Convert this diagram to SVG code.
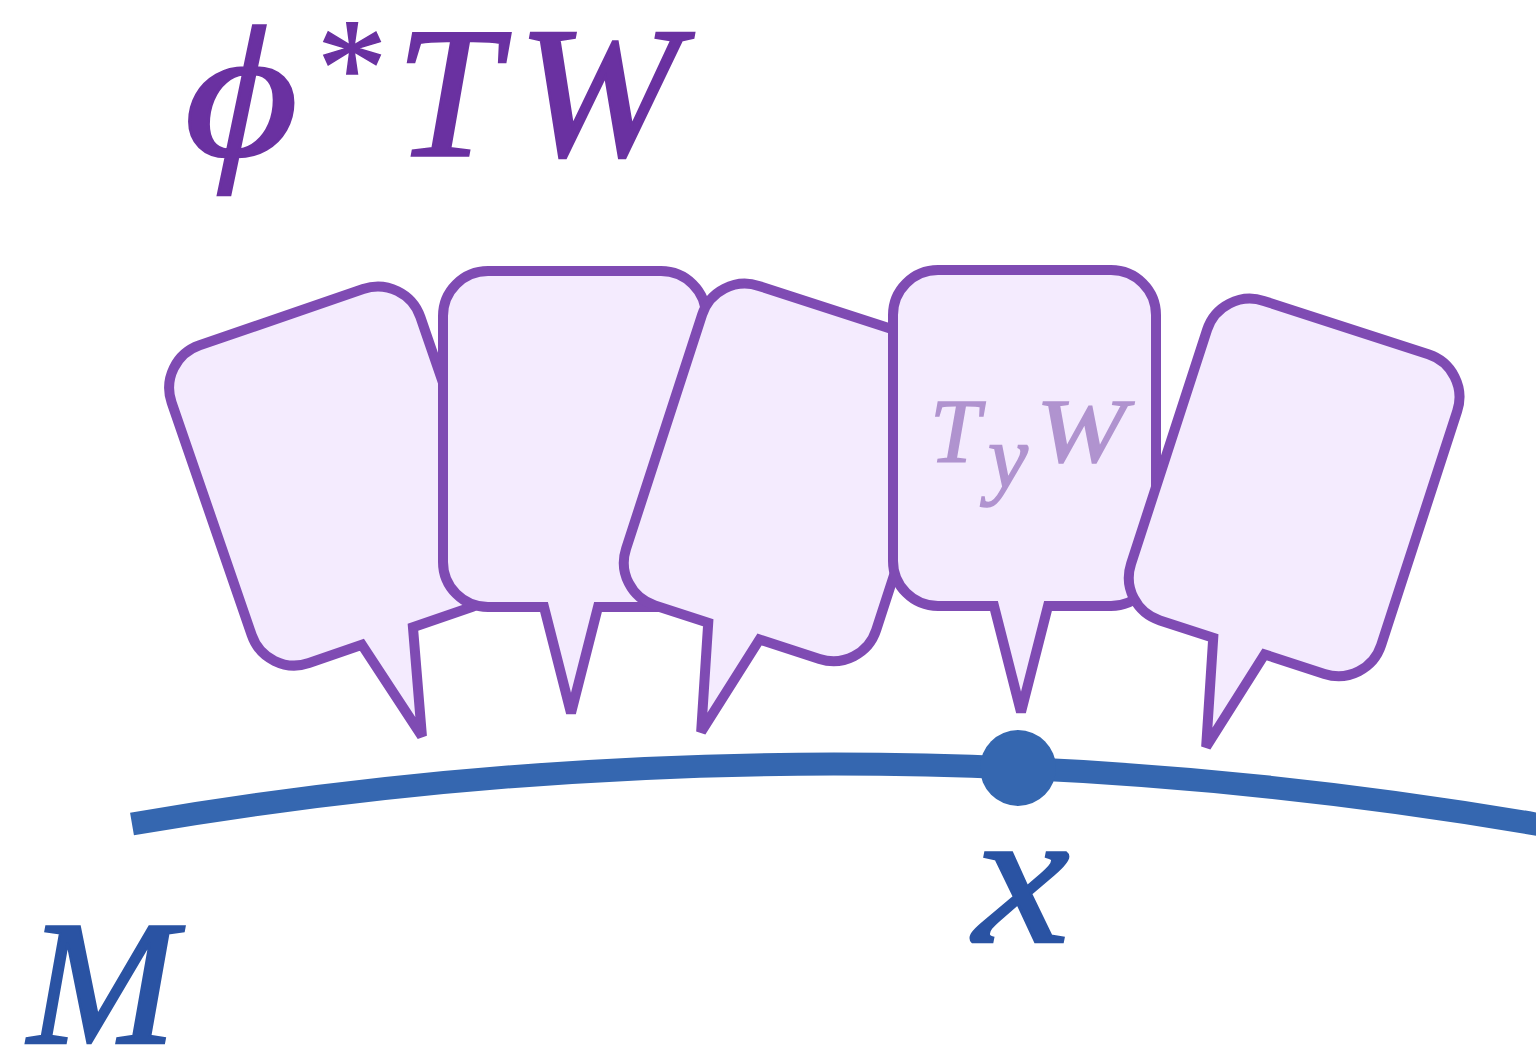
<svg xmlns="http://www.w3.org/2000/svg" width="1536" height="1046" viewBox="0 0 1536 1046">
  <defs>
    <style>
      .callout { fill: #f4ebfe; stroke: #7f4bb3; stroke-width: 10; stroke-linejoin: miter; stroke-miterlimit: 4; }
      .math { font-family: "Liberation Serif", "DejaVu Serif", serif; font-style: italic; }
      .bundle { fill: #6a31a1; stroke: #6a31a1; stroke-width: 2.5px; font-size: 186px; }
      .star { fill: #6a31a1; stroke: #6a31a1; stroke-width: 1.5px; font-family: "Liberation Serif", "DejaVu Serif", serif; font-style: normal; font-size: 140px; }
      .fiber { fill: #b093cf; stroke: #b093cf; stroke-width: 1.5px; font-size: 90px; }
      .base { fill: #2a53a3; stroke: #2a53a3; stroke-width: 2.5px; }
    </style>
    <path id="bubble" d="M45,0 H218 A45,45 0 0 1 263,45 V291 A45,45 0 0 1 218,336 H155 L128,442 L101,336 H45 A45,45 0 0 1 0,291 V45 A45,45 0 0 1 45,0 Z"/>
  </defs>
  <rect width="1536" height="1046" fill="#ffffff"/>

  <g id="label-bundle">
    <text class="math bundle" transform="translate(184.5,155) scale(1.18,1)" x="0" y="0">ϕ</text>
    <text class="star" x="317" y="114">*</text>
    <text class="math bundle" x="396" y="155">T</text>
    <text class="math bundle" transform="translate(517.5,155) scale(1.045,1)" x="0" y="0">W</text>
  </g>

  <g id="callout-1" transform="translate(157,360) rotate(-19)">
    <use href="#bubble" class="callout"/>
  </g>
  <g id="callout-2" transform="translate(443,271)">
    <use href="#bubble" class="callout"/>
  </g>
  <g id="callout-3" transform="translate(716,272) rotate(18)">
    <use href="#bubble" class="callout"/>
  </g>
  <g id="callout-4" transform="translate(893,270)">
    <use href="#bubble" class="callout"/>
    <text class="math fiber" x="37" y="192">T</text>
    <text class="math fiber" x="95" y="218">y</text>
    <text class="math fiber" transform="translate(143,192) scale(1.2,1)" x="0" y="0">W</text>
  </g>
  <g id="callout-5" transform="translate(1221,287) rotate(18)">
    <use href="#bubble" class="callout"/>
  </g>

  <g id="manifold">
    <path d="M132,824 Q856,700.3 1580,831.8" fill="none" stroke="#3567b0" stroke-width="23" stroke-linecap="butt"/>
    <text class="math base" x="28" y="1043" font-size="178">M</text>
  </g>
  <g id="point-x">
    <circle cx="1018" cy="768" r="38" fill="#3567b0"/>
    <text class="math base" transform="translate(973.4,942) scale(1.11,1)" x="0" y="0" font-size="195">x</text>
  </g>
</svg>
